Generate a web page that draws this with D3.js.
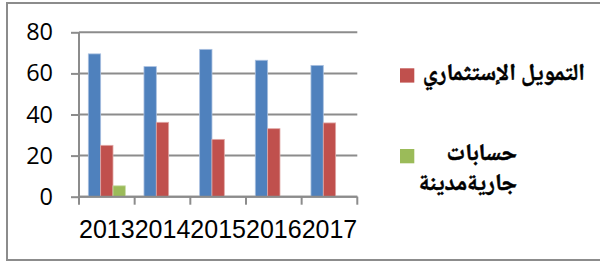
<!DOCTYPE html>
<html><head><meta charset="utf-8">
<script src="https://cdn.jsdelivr.net/npm/d3@7"></script>
<style>body{margin:0;background:#fff}svg{display:block}</style>
</head><body>
<svg id="c" width="600" height="262"></svg>
<script>
const categories = ["2013","2014","2015","2016","2017"];
const seriesNames = ["s1", "التمويل الإستثماري", "حسابات جاريةمدينة"];
const series1 = [69.5, 63.3, 71.7, 66.4, 63.9];
const series2 = [25.0, 36.2, 27.9, 33.1, 35.9];
const series3 = [5.3, 0, 0, 0, 0];
const yTicks = [0, 20, 40, 60, 80];
const colors = ["#4F81BD", "#C0504D", "#9BBB59"];
const strokes = ["#a9c0e0", "#e0a8a6", "#c8dba8"];
const legendItems = [
  {idx: 1, lines: ["التمويل الإستثماري"]},
  {idx: 2, lines: ["حسابات", "جاريةمدينة"]}
];

(function(){
const svg = d3.select("#c");
const values = [series1, series2, series3];

svg.append("rect").attr("x", 7).attr("y", 3).attr("width", 600).attr("height", 257)
  .attr("fill", "none").attr("stroke", "#8c8c8c").attr("stroke-width", 2);

const pLeft = 79, pRight = 357.3, pTop = 32.3, pBottom = 196.7;
const x0 = d3.scaleBand().domain(categories).range([pLeft, pRight]).padding(0);
const x1 = d3.scaleBand().domain([0,1,2]).range([0, x0.bandwidth()]).paddingInner(0).paddingOuter(0.755);
const y = d3.scaleLinear().domain([0, 80]).range([pBottom, pTop]);

svg.append("g").selectAll("line").data(yTicks).join("line")
  .attr("x1", pLeft).attr("x2", pRight).attr("y1", d => y(d)).attr("y2", d => y(d))
  .attr("stroke", "#8c8c8c").attr("stroke-width", 2);

const g = svg.append("g");
categories.forEach((c, i) => {
  values.forEach((arr, s) => {
    const v = arr[i];
    if (v <= 0) return;
    g.append("rect")
      .attr("x", x0(c) + x1(s)).attr("width", x1.bandwidth())
      .attr("y", y(v)).attr("height", y(0) - y(v))
      .attr("fill", colors[s]).attr("stroke", strokes[s]).attr("stroke-width", 0.8);
  });
});

const ya = svg.append("g").attr("transform", `translate(${pLeft},0)`)
  .call(d3.axisLeft(y).tickValues(yTicks).tickSize(8).tickSizeOuter(0).tickPadding(18).tickFormat(d3.format("d")));
ya.select(".domain").attr("stroke", "#8c8c8c").attr("stroke-width", 2)
  .attr("d", `M0,${y(80)}V${y(0)+7}`);
ya.selectAll(".tick line").attr("stroke", "#8c8c8c").attr("stroke-width", 2);
ya.selectAll("text").attr("font-family", "Open Sans").attr("font-size", 23.5).attr("fill", "#000");

svg.append("line").attr("x1", pLeft).attr("x2", pRight).attr("y1", y(0)).attr("y2", y(0))
  .attr("stroke", "#8c8c8c").attr("stroke-width", 2);
const bounds = categories.map(c => x0(c)).concat([x0(categories[categories.length-1]) + x0.bandwidth()]);
svg.append("g").selectAll("line").data(bounds).join("line")
  .attr("x1", d => d).attr("x2", d => d).attr("y1", y(0)).attr("y2", y(0) + 8)
  .attr("stroke", "#8c8c8c").attr("stroke-width", 2);
svg.append("g").selectAll("text").data(categories).join("text")
  .attr("x", d => x0(d) + x0.bandwidth()/2).attr("y", 238)
  .attr("text-anchor", "middle").attr("font-family", "Liberation Sans").attr("font-size", 25)
  .attr("fill", "#000").text(d => d);

const legendY = [68.3, 149];
const baseY = [[80], [160, 190]];
legendItems.forEach((it, k) => {
  svg.append("rect").attr("x", 400).attr("y", legendY[k]).attr("width", 14.3).attr("height", 14.3)
    .attr("fill", colors[it.idx]);
  const anchorX = k === 0 ? 585 : 517;
  const t = svg.append("text")
    .attr("text-anchor", "end")
    .attr("font-family", "'Noto Naskh Arabic','Noto Sans Arabic','DejaVu Sans'")
    .attr("font-weight", "bold").attr("stroke", "#000").attr("stroke-width", 0.5)
    .attr("font-size", 23.5).attr("fill", "#000");
  it.lines.forEach((ln, j) => {
    t.append("tspan").attr("x", anchorX).attr("y", baseY[k][j]).text(ln);
  });
});
})();
</script>
</body></html>
